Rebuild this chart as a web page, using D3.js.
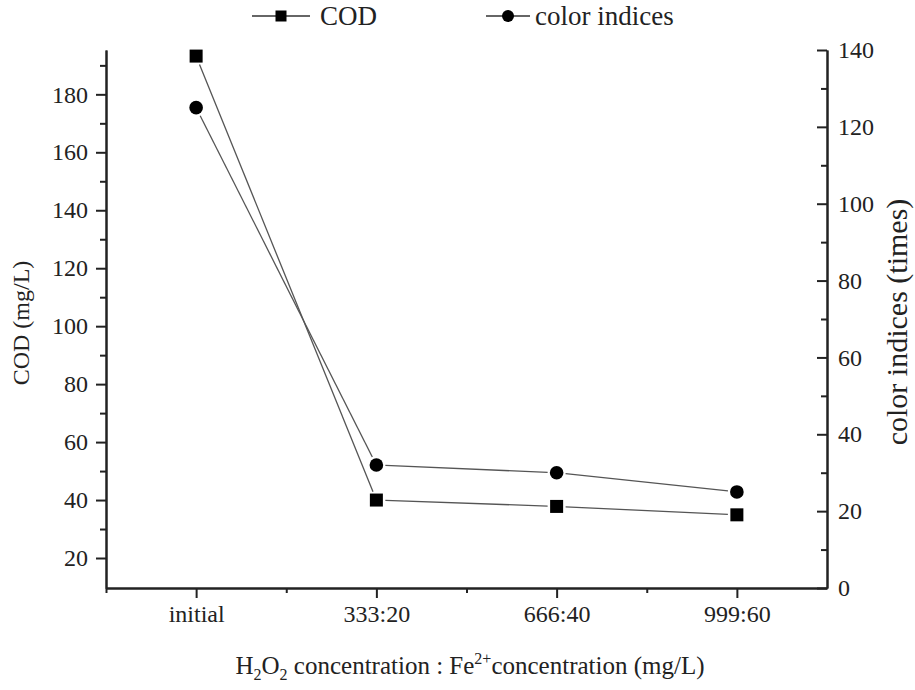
<!DOCTYPE html>
<html>
<head>
<meta charset="utf-8">
<script src="https://cdn.jsdelivr.net/npm/d3@7"></script>
<style>
  body { margin: 0; background: #fff; }
  svg { display: block; }
  svg text { font-family: "Liberation Serif", "Times New Roman", serif !important; fill: #222; }
</style>
</head>
<body>
<svg id="chart" width="915" height="690" font-family="Liberation Serif"></svg>
<script>
// ---- data ----
const categories = ["initial", "333:20", "666:40", "999:60"];
const codValues = [193.2, 40, 37.8, 34.9];
const colorValues = [125, 32, 30, 25];
const leftTicks = [20, 40, 60, 80, 100, 120, 140, 160, 180];
const leftMinorTicks = [30, 50, 70, 90, 110, 130, 150, 170, 190];
const rightTicks = [0, 20, 40, 60, 80, 100, 120, 140];
const rightMinorTicks = [10, 30, 50, 70, 90, 110, 130];
const seriesNames = ["COD", "color indices"];

// ---- layout ----
const svg = d3.select("#chart");
const plotLeft = 106, plotRight = 827, plotTop = 50, plotBottom = 588;
const tickFont = 24;
const FONT = '"Liberation Serif", "Times New Roman", serif';

const x = d3.scaleLinear().domain([0.5, categories.length + 0.5]).range([plotLeft, plotRight]);
const yL = d3.scaleLinear().domain([9.65, 195.3]).range([plotBottom, plotTop]);
const yR = d3.scaleLinear().domain([0, 140]).range([plotBottom, plotTop]);

function styleAxis(g) {
  g.attr("font-family", FONT).attr("font-size", tickFont);
  g.select(".domain").attr("stroke", "#222").attr("stroke-width", 2);
  g.selectAll(".tick line").attr("stroke", "#222").attr("stroke-width", 2);
  g.selectAll("text").attr("font-family", FONT).attr("font-size", tickFont).attr("fill", "#222");
}

// bottom axis (major + minor)
const idx = categories.map((c, i) => i + 1);
const gx = svg.append("g").attr("transform", `translate(0,${plotBottom})`)
  .call(d3.axisBottom(x).tickValues(idx).tickFormat(d => categories[d - 1])
    .tickSize(10).tickPadding(7).tickSizeOuter(0));
styleAxis(gx);
const gxm = svg.append("g").attr("transform", `translate(0,${plotBottom})`)
  .call(d3.axisBottom(x).tickValues([0.5, 1.5, 2.5, 3.5]).tickFormat("").tickSize(5).tickSizeOuter(0));
styleAxis(gxm);

// left axis
const gl = svg.append("g").attr("transform", `translate(${plotLeft},0)`)
  .call(d3.axisLeft(yL).tickValues(leftTicks).tickSize(10).tickPadding(8).tickSizeOuter(0));
styleAxis(gl);
const glm = svg.append("g").attr("transform", `translate(${plotLeft},0)`)
  .call(d3.axisLeft(yL).tickValues(leftMinorTicks).tickFormat("").tickSize(6).tickSizeOuter(0));
styleAxis(glm);

// right axis (ticks point inward)
const gr = svg.append("g").attr("transform", `translate(${plotRight},0)`)
  .call(d3.axisRight(yR).tickValues(rightTicks).tickSize(-10).tickPadding(11).tickSizeOuter(0));
styleAxis(gr);
const grm = svg.append("g").attr("transform", `translate(${plotRight},0)`)
  .call(d3.axisRight(yR).tickValues(rightMinorTicks).tickFormat("").tickSize(-6).tickSizeOuter(0));
styleAxis(grm);

// ---- series lines with gaps around markers ----
function gappedSegments(vals, yScale, gap) {
  const pts = vals.map((v, i) => [x(i + 1), yScale(v)]);
  const segs = [];
  for (let i = 0; i < pts.length - 1; i++) {
    const [x1, y1] = pts[i], [x2, y2] = pts[i + 1];
    const len = Math.hypot(x2 - x1, y2 - y1);
    const ux = (x2 - x1) / len, uy = (y2 - y1) / len;
    segs.push([[x1 + ux * gap, y1 + uy * gap], [x2 - ux * gap, y2 - uy * gap]]);
  }
  return segs;
}
const line = d3.line();
[[codValues, yL], [colorValues, yR]].forEach(([vals, ys]) => {
  svg.append("g").selectAll("path").data(gappedSegments(vals, ys, 9)).join("path")
    .attr("d", d => line(d)).attr("fill", "none").attr("stroke", "#555").attr("stroke-width", 1.3);
});

// markers
svg.append("g").selectAll("rect").data(codValues).join("rect")
  .attr("x", (d, i) => x(i + 1) - 6.5).attr("y", d => yL(d) - 6.5)
  .attr("width", 13).attr("height", 13).attr("fill", "#000");
svg.append("g").selectAll("circle").data(colorValues).join("circle")
  .attr("cx", (d, i) => x(i + 1)).attr("cy", d => yR(d)).attr("r", 6.8).attr("fill", "#000");

// ---- axis titles ----
svg.append("text")
  .attr("transform", `translate(29,${(plotTop + plotBottom) / 2 + 4}) rotate(-90)`)
  .attr("text-anchor", "middle").attr("font-family", FONT).attr("font-size", 24)
  .text("COD (mg/L)");
svg.append("text")
  .attr("transform", `translate(907,${(plotTop + plotBottom) / 2 + 3}) rotate(-90)`)
  .attr("text-anchor", "middle").attr("font-family", FONT).attr("font-size", 30)
  .text("color indices (times)");

const xt = svg.append("text").attr("x", 470).attr("y", 674)
  .attr("text-anchor", "middle").attr("font-family", FONT).attr("font-size", 25);
xt.append("tspan").text("H");
xt.append("tspan").attr("dy", 6).attr("font-size", 16).text("2");
xt.append("tspan").attr("dy", -6).text("O");
xt.append("tspan").attr("dy", 6).attr("font-size", 16).text("2");
xt.append("tspan").attr("dy", -6).text(" concentration : Fe");
xt.append("tspan").attr("dy", -10).attr("font-size", 16).text("2+");
xt.append("tspan").attr("dy", 10).text("concentration (mg/L)");

// ---- legend ----
const legendItems = [
  { name: seriesNames[0], x1: 252, x2: 310, mx: 281, tx: 320, shape: "square" },
  { name: seriesNames[1], x1: 486, x2: 530, mx: 508, tx: 535, shape: "circle" }
];
const ly = 16;
const lg = svg.append("g");
legendItems.forEach(it => {
  lg.append("line").attr("x1", it.x1).attr("x2", it.x2).attr("y1", ly).attr("y2", ly)
    .attr("stroke", "#333").attr("stroke-width", 1.5);
  if (it.shape === "square") {
    lg.append("rect").attr("x", it.mx - 5.5).attr("y", ly - 5.5).attr("width", 11).attr("height", 11).attr("fill", "#000");
  } else {
    lg.append("circle").attr("cx", it.mx).attr("cy", ly).attr("r", 6).attr("fill", "#000");
  }
  lg.append("text").attr("x", it.tx).attr("y", ly + 9).attr("font-family", FONT).attr("font-size", 27).text(it.name);
});
</script>
</body>
</html>
